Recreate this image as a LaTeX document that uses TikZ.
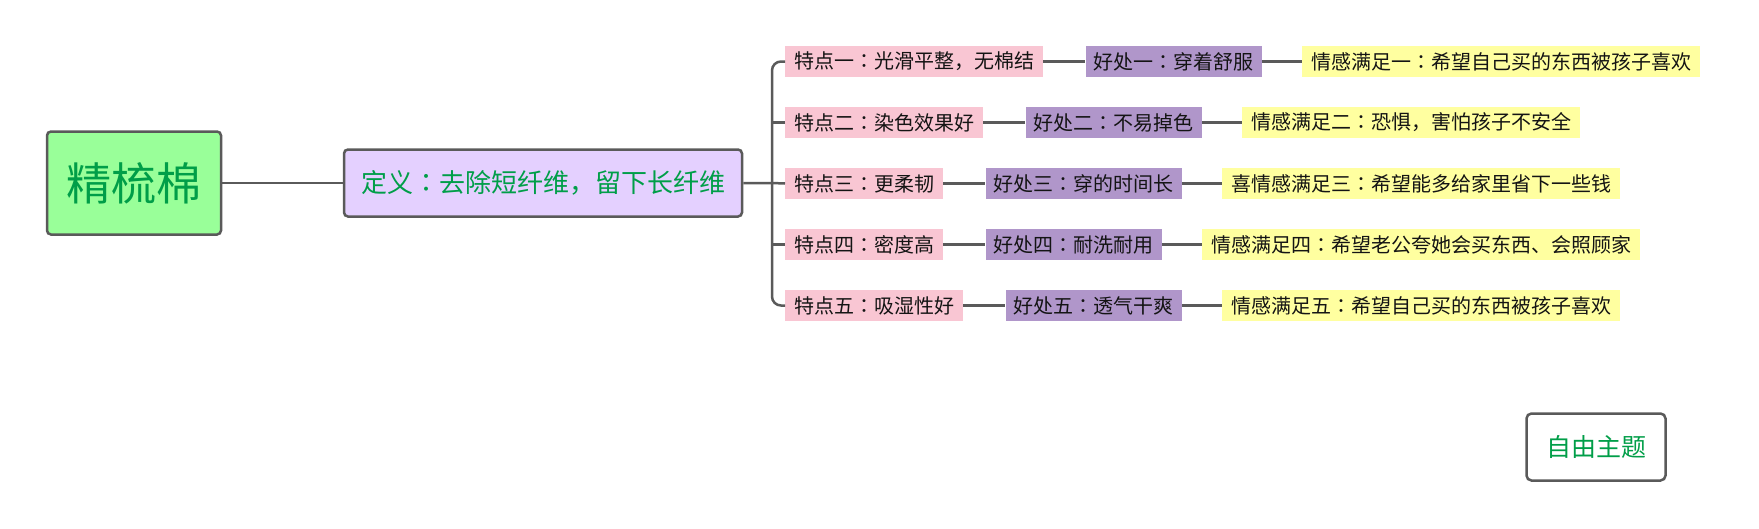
\documentclass[tikz,border=0pt]{standalone}
\usepackage{fontspec}
\newfontfamily\cjk{Noto Sans CJK SC}
\newfontfamily\cjkjp{Noto Sans CJK JP}
\newcommand\cc{{\cjkjp ：}}
\definecolor{edge}{RGB}{90,90,90}
\definecolor{txtgreen}{RGB}{0,158,72}
\definecolor{rootfill}{RGB}{153,255,153}
\definecolor{deffill}{RGB}{228,208,255}
\definecolor{pinkfill}{RGB}{249,198,211}
\definecolor{purplefill}{RGB}{176,150,202}
\definecolor{yellowfill}{RGB}{255,255,160}
\definecolor{txtdark}{RGB}{20,20,20}
\tikzset{
  conn/.style={draw=edge, line width=2.5pt},
  rootbox/.style={draw=edge, line width=2.5pt, rounded corners=4pt, fill=rootfill,
    minimum width=174pt, minimum height=103pt, inner sep=0pt, text=txtgreen,
    font=\cjk\fontsize{45pt}{50pt}\selectfont},
  defbox/.style={draw=edge, line width=2.5pt, rounded corners=4pt, fill=deffill,
    minimum width=398pt, minimum height=67pt, inner sep=0pt, text=txtgreen,
    font=\cjk\fontsize{26pt}{30pt}\selectfont},
  themebox/.style={draw=edge, line width=2.5pt, rounded corners=5pt, fill=white,
    minimum width=139pt, minimum height=67pt, inner sep=0pt, text=txtgreen,
    font=\cjk\fontsize{25pt}{30pt}\selectfont},
  featbox/.style={fill=pinkfill, minimum height=31pt, inner xsep=9pt, inner ysep=0pt,
    text=txtdark, font=\cjk\fontsize{20pt}{24pt}\selectfont, anchor=west},
  benbox/.style={fill=purplefill, minimum height=31pt, inner xsep=8pt, inner ysep=0pt,
    text=txtdark, font=\cjk\fontsize{20pt}{24pt}\selectfont, anchor=west},
  emobox/.style={fill=yellowfill, minimum height=31pt, inner xsep=9pt, inner ysep=0pt,
    text=txtdark, font=\cjk\fontsize{20pt}{24pt}\selectfont, anchor=west},
}
\begin{document}
\begin{tikzpicture}[x=1pt, y=-1pt]
\useasboundingbox (0,0) rectangle (1759,528);
\node[rootbox] (root) at (134,183) {精梳棉};
\node[defbox] (def) at (543,183) {定义\cc 去除短纤维，留下长纤维};
\node[themebox] (theme) at (1596,447) {自由主题};
\coordinate (sp) at (772,183);

\node[featbox] (p1) at (785,61.5) {特点一\cc 光滑平整，无棉结};
\node[featbox] (p2) at (785,122.5) {特点二\cc 染色效果好};
\node[featbox] (p3) at (785,183.5) {特点三\cc 更柔韧};
\node[featbox] (p4) at (785,244.5) {特点四\cc 密度高};
\node[featbox] (p5) at (785,305.5) {特点五\cc 吸湿性好};

\node[benbox] (b1) at ([xshift=42pt]p1.east) {好处一\cc 穿着舒服};
\node[benbox] (b2) at ([xshift=42pt]p2.east) {好处二\cc 不易掉色};
\node[benbox] (b3) at ([xshift=42pt]p3.east) {好处三\cc 穿的时间长};
\node[benbox] (b4) at ([xshift=42pt]p4.east) {好处四\cc 耐洗耐用};
\node[benbox] (b5) at ([xshift=42pt]p5.east) {好处五\cc 透气干爽};

\node[emobox] (e1) at ([xshift=40pt]b1.east) {情感满足一\cc 希望自己买的东西被孩子喜欢};
\node[emobox] (e2) at ([xshift=40pt]b2.east) {情感满足二\cc 恐惧，害怕孩子不安全};
\node[emobox] (e3) at ([xshift=40pt]b3.east) {喜情感满足三\cc 希望能多给家里省下一些钱};
\node[emobox] (e4) at ([xshift=40pt]b4.east) {情感满足四\cc 希望老公夸她会买东西、会照顾家};
\node[emobox] (e5) at ([xshift=40pt]b5.east) {情感满足五\cc 希望自己买的东西被孩子喜欢};

\draw[conn] (root.east) -- (def.west);
\draw[conn] (def.east) -- (def.east -| sp) -- (p3.west);
\draw[conn, rounded corners=9pt] (p1.west) -- (p1.west -| sp) -- (p5.west -| sp) -- (p5.west);
\draw[conn] (p2.west -| sp) -- (p2.west);
\draw[conn] (p4.west -| sp) -- (p4.west);
\foreach \i in {1,...,5} {
  \draw[conn] (p\i.east) -- (b\i.west);
  \draw[conn] (b\i.east) -- (e\i.west);
}
\end{tikzpicture}
\end{document}
